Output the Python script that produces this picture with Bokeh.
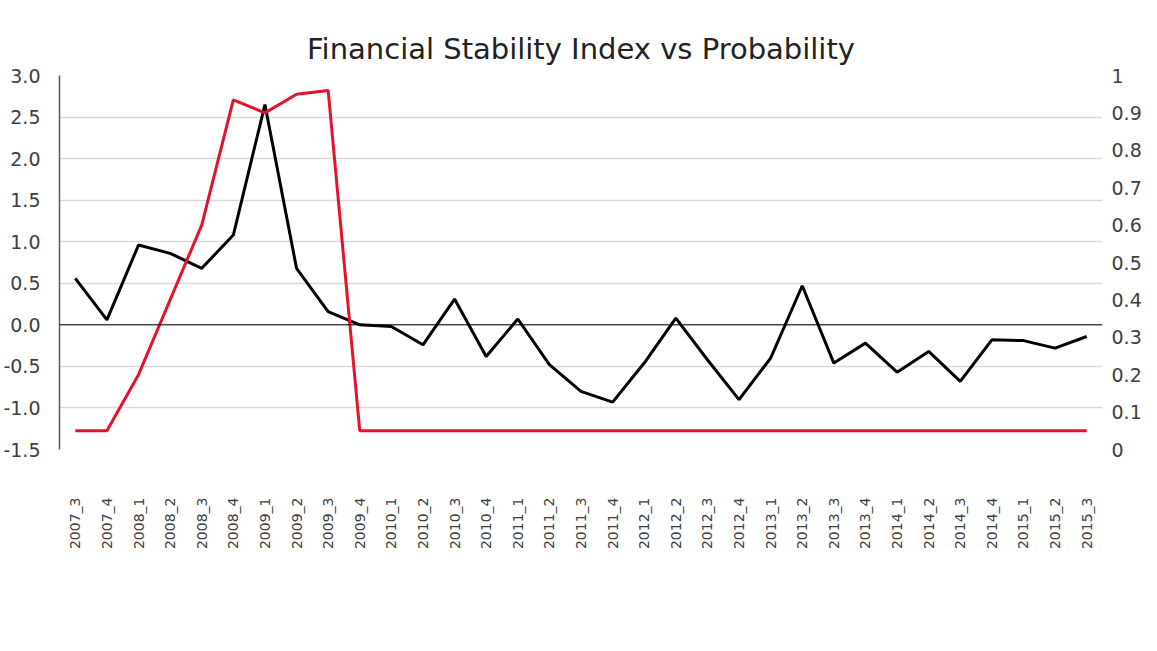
import math
from bokeh.plotting import figure
from bokeh.models import (Range1d, LinearAxis, FixedTicker, Span, Legend, LegendItem,
                          FactorRange)
from bokeh.embed import file_html
from bokeh.resources import INLINE

quarters = ["2007_3", "2007_4", "2008_1", "2008_2", "2008_3", "2008_4",
            "2009_1", "2009_2", "2009_3", "2009_4", "2010_1", "2010_2",
            "2010_3", "2010_4", "2011_1", "2011_2", "2011_3", "2011_4",
            "2012_1", "2012_2", "2012_3", "2012_4", "2013_1", "2013_2",
            "2013_3", "2013_4", "2014_1", "2014_2", "2014_3", "2014_4",
            "2015_1", "2015_2", "2015_3"]

fsi = [0.56, 0.06, 0.96, 0.86, 0.68, 1.08,
       2.65, 0.68, 0.16, 0.00, -0.02, -0.24,
       0.31, -0.38, 0.07, -0.48, -0.80, -0.93,
       -0.46, 0.08, -0.42, -0.90, -0.40, 0.47,
       -0.46, -0.22, -0.57, -0.32, -0.68, -0.18,
       -0.19, -0.28, -0.14]

prob = [0.05, 0.05, 0.20, 0.40, 0.60, 0.935,
        0.90, 0.95, 0.96, 0.05, 0.05, 0.05,
        0.05, 0.05, 0.05, 0.05, 0.05, 0.05,
        0.05, 0.05, 0.05, 0.05, 0.05, 0.05,
        0.05, 0.05, 0.05, 0.05, 0.05, 0.05,
        0.05, 0.05, 0.05]

left_ticks = [-1.5, -1.0, -0.5, 0.0, 0.5, 1.0, 1.5, 2.0, 2.5, 3.0]
left_labels = ["-1.5", "-1.0", "-0.5", "0.0", "0.5", "1.0", "1.5", "2.0", "2.5", "3.0"]
right_ticks = [0.0, 0.1, 0.2, 0.3, 0.4, 0.5, 0.6, 0.7, 0.8, 0.9, 1.0]
right_labels = ["0", "0.1", "0.2", "0.3", "0.4", "0.5", "0.6", "0.7", "0.8", "0.9", "1"]

FONT = "DejaVu Sans"
TXT = "#404040"

p = figure(frame_width=1043, frame_height=374, output_backend="svg", toolbar_location=None,
           x_range=FactorRange(*quarters),
           y_range=Range1d(left_ticks[0], left_ticks[-1]),
           title="Financial Stability Index vs Probability",
           min_border_left=59, min_border_right=39, min_border_top=75,
           min_border_bottom=186)
p.extra_y_ranges = {"prob": Range1d(right_ticks[0], right_ticks[-1])}

p.title.align = "center"
p.title.text_font = FONT
p.title.text_font_size = "29px"
p.title.text_font_style = "normal"
p.title.text_color = "#222222"
p.title.standoff = 20

p.outline_line_color = None
p.background_fill_color = "white"
p.border_fill_color = "white"
p.xgrid.grid_line_color = None
p.ygrid.ticker = FixedTicker(ticks=left_ticks)
p.ygrid.grid_line_color = "#d9d9d9"
p.ygrid.grid_line_width = 1.5

# left axis
ya = p.yaxis[0]
ya.ticker = FixedTicker(ticks=left_ticks)
ya.major_label_overrides = {t: l for t, l in zip(left_ticks, left_labels)}
ya.major_label_text_font = FONT
ya.major_label_text_font_size = "19px"
ya.major_label_text_color = TXT
ya.major_tick_line_color = None
ya.major_tick_out = 0
ya.major_tick_in = 0
ya.minor_tick_line_color = None
ya.minor_tick_out = 0
ya.axis_line_color = "#595959"
ya.axis_line_width = 1.5
ya.major_label_standoff = 19

# right axis
ra = LinearAxis(y_range_name="prob", ticker=FixedTicker(ticks=right_ticks))
ra.major_label_overrides = {t: l for t, l in zip(right_ticks, right_labels)}
ra.major_label_text_font = FONT
ra.major_label_text_font_size = "19px"
ra.major_label_text_color = TXT
ra.major_tick_line_color = None
ra.major_tick_out = 0
ra.major_tick_in = 0
ra.minor_tick_line_color = None
ra.minor_tick_out = 0
ra.axis_line_color = None
ra.major_label_standoff = 9
p.add_layout(ra, "right")

# x axis
xa = p.xaxis[0]
xa.major_label_orientation = math.pi / 2
xa.major_label_text_font = FONT
xa.major_label_text_font_size = "14px"
xa.major_label_text_color = TXT
xa.major_tick_line_color = None
xa.major_tick_out = 0
xa.major_tick_in = 0
xa.minor_tick_line_color = None
xa.minor_tick_out = 0
xa.axis_line_color = None
xa.major_label_standoff = 48
xa.axis_label = " "
xa.axis_label_text_font_size = "10px"
xa.axis_label_standoff = 48

zero = Span(location=0, dimension="width", line_color="#000000", line_width=1)
p.add_layout(zero)

r1 = p.line(quarters, fsi, line_color="#000000", line_width=3)
r2 = p.line(quarters, prob, y_range_name="prob", line_color="#e3122d", line_width=3)

legend = Legend(items=[LegendItem(label="Financial Stability Index", renderers=[r1]),
                       LegendItem(label='"Smoothed" Probability', renderers=[r2])],
                orientation="horizontal", location="center",
                label_text_font=FONT, label_text_font_size="20px", label_text_color=TXT,
                glyph_width=47, label_standoff=5, spacing=38, padding=2, margin=0,
                border_line_color=None, background_fill_alpha=0)
p.add_layout(legend, "below")

open("out.html", "w").write(file_html(p, INLINE))
